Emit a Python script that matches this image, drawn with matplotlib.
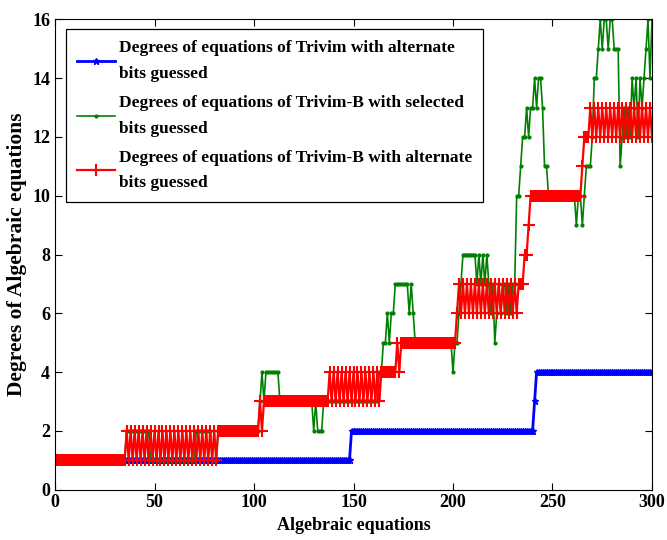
import numpy as np
import matplotlib.pyplot as plt

plt.rcParams['font.family'] = ['Liberation Serif', 'DejaVu Serif']
plt.rcParams['font.weight'] = 'bold'

# equation index 1..300
eq_index = np.arange(1, 301)

# Trivim, alternate bits guessed
deg_trivim_alt = [1]*148 + [2]*92 + [3] + [4]*59

# Trivim-B, selected bits guessed
deg_trivimb_sel = ([1]*35 + [2]*12 + [1]*23 + [2]*8 + [1]*3
                   + [2]*21 + [3, 4, 3] + [4]*7 + [3]*17
                   + [2, 3, 2, 2, 2, 3] + [3]*26
                   + [3, 4, 4, 5, 5, 6, 5, 6, 6, 7] + [7]*6 + [6, 7, 6, 5]
                   + [5]*17 + [5, 4, 5] + [5, 6, 7] + [8]*7
                   + [7, 8, 7, 8, 7, 8] + [7, 6, 7, 5, 6]
                   + [7, 6, 7, 7, 6, 7, 6, 7]
                   + [7, 10, 10, 11, 12, 12, 13, 12, 13, 13, 14, 13, 14, 14, 13, 11, 11, 10]
                   + [10]*13 + [9, 10, 10, 9, 10]
                   + [11, 11, 11, 12, 14, 14, 15, 16, 15, 16, 16, 15, 16, 16, 15, 15, 15]
                   + [11, 12, 13, 12, 13, 12, 14, 13, 14, 12, 14, 13, 14, 15, 16, 14, 16])

# Trivim-B, alternate bits guessed
deg_trivimb_alt = ([1]*35 + [2, 1]*23 + [2]*21 + [3, 2, 3] + [3]*32
                   + [4, 3]*13 + [4]*8 + [5, 4] + [5]*28 + [6, 7]*16
                   + [7, 7, 8, 8, 9] + [10]*26 + [11, 12, 12, 12] + [13, 12]*16)

labels = ['Degrees of equations of Trivim with alternate\nbits guessed',
          'Degrees of equations of Trivim-B with selected\nbits guessed',
          'Degrees of equations of Trivim-B with alternate\nbits guessed']

fig = plt.figure(figsize=(6.67, 5.40), dpi=100)
ax = fig.add_axes([0.0825, 0.0935, 0.895, 0.8704])

ax.plot(eq_index, deg_trivim_alt, color='b', lw=2, marker='*', ms=4.5, label=labels[0])
ax.plot(eq_index, deg_trivimb_sel, color=(0, 0.5, 0), lw=1.2, marker='.', ms=4, label=labels[1])
ax.plot(eq_index, deg_trivimb_alt, color='r', lw=1.6, marker='+', ms=9, mew=1.5, label=labels[2])

ax.set_xlim(0, 300)
ax.set_ylim(0, 16)
ax.set_xticks(np.arange(0, 301, 50))
ax.set_yticks(np.arange(0, 17, 2))
ax.tick_params(direction='in', top=True, right=True, length=5, labelsize=13, width=0.8)
for lab in ax.get_xticklabels() + ax.get_yticklabels():
    lab.set_fontweight('bold')

ax.set_xlabel('Algebraic equations', fontsize=13, fontweight='bold', labelpad=4)
ax.set_ylabel('Degrees of Algebraic equations', fontsize=15.5, fontweight='bold', labelpad=4)

leg = ax.legend(loc='upper left', bbox_to_anchor=(66/667, 1 - 29/540),
                bbox_transform=fig.transFigure, borderaxespad=0,
                fontsize=12.5, handlelength=2.2, handletextpad=0.2,
                labelspacing=0.75, borderpad=0.65, fancybox=False,
                framealpha=1, edgecolor='black')
leg.get_frame().set_linewidth(0.9)
for t in leg.get_texts():
    t.set_linespacing(1.8)

fig.savefig('out.png', dpi=100)
